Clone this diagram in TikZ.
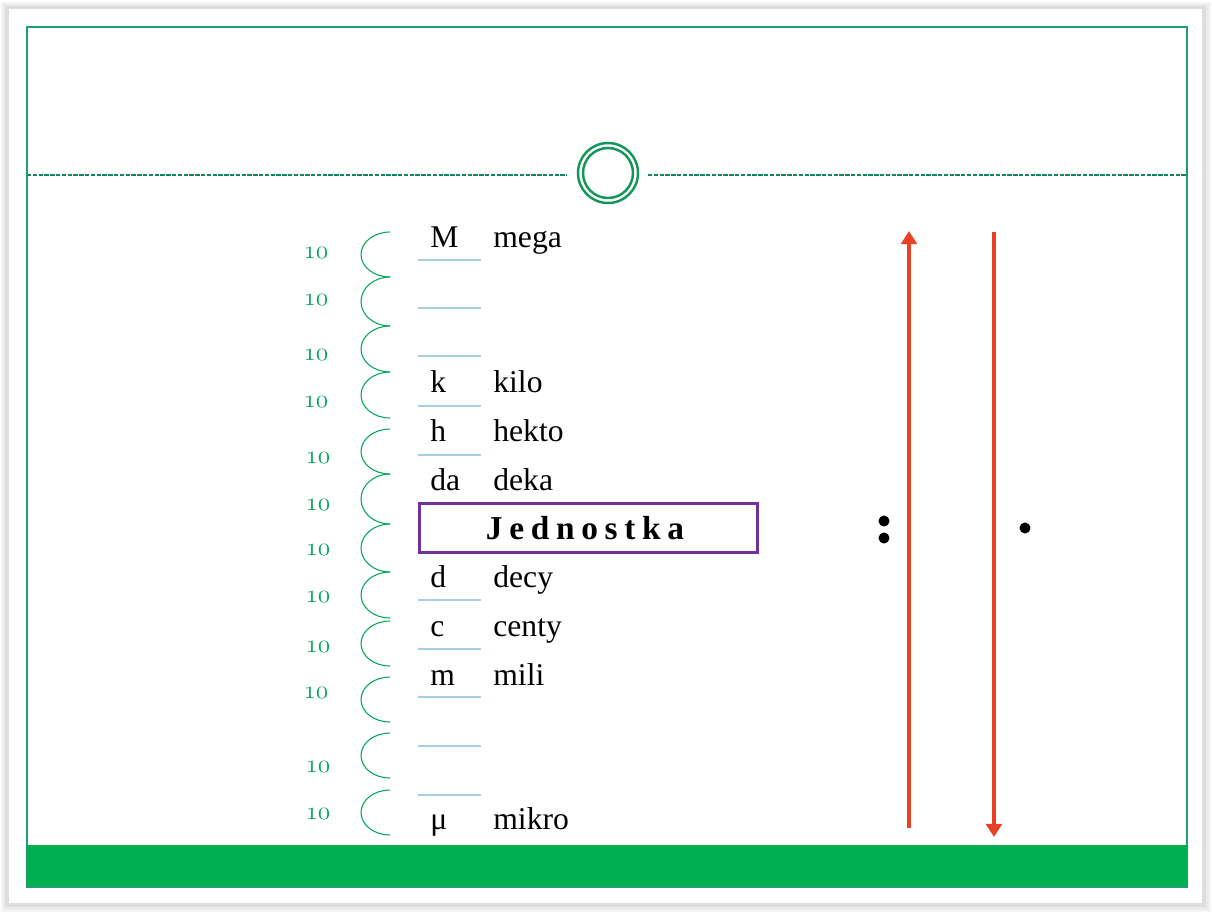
\documentclass[tikz,border=0pt]{standalone}
\usepackage{fontspec}
\setmainfont{Liberation Serif}
\usetikzlibrary{arrows.meta}
\newcommand{\osnum}[1]{{\usefont{OML}{cmm}{m}{it}#1}}
\definecolor{frameGreen}{RGB}{30,160,110}
\definecolor{ruleGreen}{RGB}{20,130,100}
\definecolor{labelGreen}{RGB}{0,166,90}
\definecolor{barGreen}{RGB}{0,176,80}
\definecolor{ringGreen}{RGB}{20,150,90}
\definecolor{lineBlue}{RGB}{170,205,230}
\definecolor{boxPurple}{RGB}{112,48,160}
\definecolor{arrowRed}{RGB}{232,65,40}
\begin{document}
\begin{tikzpicture}[
  x=0.02cm, y=-0.02cm,
  symbolcell/.style={anchor=base west, inner sep=0pt, font=\fontsize{18}{21}\selectfont},
  namecell/.style={anchor=base west, inner sep=0pt, font=\fontsize{18}{21}\selectfont},
  power/.style={inner sep=0pt, text=labelGreen, font=\fontsize{15}{17}\selectfont},
  slot/.style={draw=lineBlue, line width=0.6pt},
  hop/.style={draw=labelGreen, line width=0.6pt},
  scale arrow/.style={draw=arrowRed, line width=2.2pt, -{Triangle[length=7.5pt,width=9pt]}},
  dot/.style={circle, fill=black, inner sep=0pt, minimum size=6.3pt}]

% Slide with its shadow
\useasboundingbox (0,0) rectangle (1212,913);
\fill[gray!8] (1,2) rectangle (1211,912);
\fill[gray!16] (3,4) rectangle (1209,910);
\fill[gray!26] (5,6) rectangle (1206,907);
\fill[white] (9,9) rectangle (1202,903);
\draw[frameGreen, line width=0.6pt] (27,27) rectangle (1187,887);
\fill[barGreen] (27,845) rectangle (1187,886);

% Title rule and ring
\node[circle, minimum size=1.2cm, inner sep=0pt] (ring) at (608,173) {};
\draw[ringGreen, line width=1.4pt] (ring.center) circle[radius=25];
\draw[ringGreen, line width=1.4pt] (ring.center) circle[radius=30];
\coordinate (ruleL) at (27,175);
\coordinate (ruleR) at (1187,175);
\draw[ruleGreen, line width=0.6pt, dash pattern=on 2.5pt off 0.8pt] (ruleL) -- (567,175);
\draw[ruleGreen, line width=0.6pt, dash pattern=on 2.5pt off 0.8pt] (648,175) -- (ruleR);

% Prefixes and their names
\node[symbolcell] (pM) at (430,247) {M};
\node[namecell] (nM) at (493,247) {mega};
\node[symbolcell] (pk) at (430,392) {k};
\node[namecell] (nk) at (493,392) {kilo};
\node[symbolcell] (ph) at (430,441) {h};
\node[namecell] (nh) at (493,441) {hekto};
\node[symbolcell] (pda) at (430,490) {da};
\node[namecell] (nda) at (493,490) {deka};
\node[symbolcell] (pd) at (430,587) {d};
\node[namecell] (nd) at (493,587) {decy};
\node[symbolcell] (pc) at (430,636) {c};
\node[namecell] (nc) at (493,636) {centy};
\node[symbolcell] (pm) at (430,685) {m};
\node[namecell] (nm) at (493,685) {mili};
\node[symbolcell] (pmu) at (430,829) {μ};
\node[namecell] (nmu) at (493,829) {mikro};

% The base unit
\node[draw=boxPurple, line width=1.7pt, minimum width=6.78cm, minimum height=0.98cm, inner sep=0pt] (unit) at (588.5,527.5) {};
\node[font=\fontsize{19}{22}\selectfont\bfseries\addfontfeature{LetterSpace=20}] (unitText) at (585,528) {Jednostka};

% Blank slots under each prefix
\foreach \y in {260,308,356,406,455,600,649,697,746,795}
  \draw[slot] (418,\y) -- (481,\y);

% Steps of ten between neighbouring rows
\foreach \t/\b in {232/277,277/326,326/372,372/418,429/474,474/524,524/572,572/618,621/666,677/722,733/778,790/835}
  \draw[hop] (390,\t) arc[start angle=270, end angle=90, x radius=29, y radius={(\b-\t)/2}];
\foreach \x/\y [count=\i] in {316/253,316/300,316/355,316/402,318/458,318/505,318/550,318/597,318/647,316/693,318/767,318/814}
  \node[power] (pow\i) at (\x,\y) {\osnum{10}};

% Direction arrows
\coordinate (upFrom) at (909,828);
\coordinate (upTo) at (909,231);
\coordinate (downFrom) at (994,232);
\coordinate (downTo) at (994,837);
\draw[scale arrow] (upFrom) -- (upTo);
\draw[scale arrow] (downFrom) -- (downTo);

% Division and multiplication signs
\node[dot] (colonTop) at (884,521) {};
\node[dot] (colonBot) at (884,538) {};
\node[dot] (times) at (1025,528) {};

\end{tikzpicture}
\end{document}
